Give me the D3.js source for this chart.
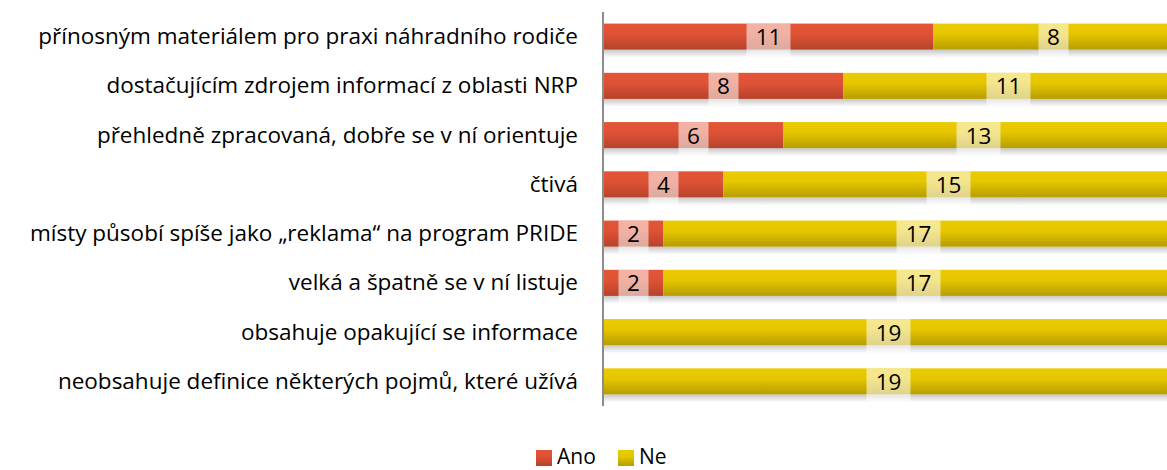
<!DOCTYPE html>
<html>
<head>
<meta charset="utf-8">
<script src="https://cdn.jsdelivr.net/npm/d3@7"></script>
<style>
  body { margin: 0; background: #fff; }
  svg { display: block; font-family: "Open Sans", "Noto Sans", sans-serif; }
</style>
</head>
<body>
<svg id="chart" width="1167" height="470"></svg>
<script>
var categories = [
  "přínosným materiálem pro praxi náhradního rodiče",
  "dostačujícím zdrojem informací z oblasti NRP",
  "přehledně zpracovaná, dobře se v ní orientuje",
  "čtivá",
  "místy působí spíše jako „reklama“ na program PRIDE",
  "velká a špatně se v ní listuje",
  "obsahuje opakující se informace",
  "neobsahuje definice některých pojmů, které užívá"
];
var ano = [11, 8, 6, 4, 2, 2, 0, 0];
var ne = [8, 11, 13, 15, 17, 17, 19, 19];
var seriesNames = ["Ano", "Ne"];

var svg = d3.select("#chart");
var defs = svg.append("defs");

// vertical gradients for the two series
var palettes = {
  Ano: ["#e35536", "#df5236", "#b4432a"],
  Ne: ["#ebcb00", "#e5c600", "#b79d00"]
};
seriesNames.forEach(function(name) {
  var g = defs.append("linearGradient")
      .attr("id", "grad-" + name)
      .attr("x1", 0).attr("y1", 0).attr("x2", 0).attr("y2", 1);
  g.append("stop").attr("offset", "0%").attr("stop-color", palettes[name][0]);
  g.append("stop").attr("offset", "40%").attr("stop-color", palettes[name][1]);
  g.append("stop").attr("offset", "100%").attr("stop-color", palettes[name][2]);
});
var sh = defs.append("linearGradient")
    .attr("id", "shadow")
    .attr("x1", 0).attr("y1", 0).attr("x2", 0).attr("y2", 1);
sh.append("stop").attr("offset", "0%").attr("stop-color", "#000").attr("stop-opacity", 0.22);
sh.append("stop").attr("offset", "100%").attr("stop-color", "#000").attr("stop-opacity", 0);

var x = d3.scaleLinear().domain([0, 19]).range([603.5, 1173.5]);
var y = d3.scaleBand().domain(categories).range([12, 406]).paddingInner(0.47).paddingOuter(0.235);

var rows = categories.map(function(c, i) {
  return { cat: c, segs: [
    { name: "Ano", x0: 0, x1: ano[i], v: ano[i] },
    { name: "Ne", x0: ano[i], x1: ano[i] + ne[i], v: ne[i] }
  ]};
});

var row = svg.append("g").selectAll("g")
  .data(rows)
  .enter().append("g");

// shadow under each bar
row.append("rect")
    .attr("x", x(0))
    .attr("y", function(d) { return y(d.cat) + y.bandwidth(); })
    .attr("width", function(d) { return x(d.segs[1].x1) - x(0); })
    .attr("height", 8)
    .attr("fill", "url(#shadow)");

row.selectAll("rect.seg")
  .data(function(d) { return d.segs.map(function(s) { s.cat = d.cat; return s; }); })
  .enter().append("rect")
    .attr("class", "seg")
    .attr("x", function(d) { return x(d.x0); })
    .attr("y", function(d) { return y(d.cat); })
    .attr("width", function(d) { return x(d.x1) - x(d.x0); })
    .attr("height", y.bandwidth())
    .attr("fill", function(d) { return "url(#grad-" + d.name + ")"; });

// data labels with translucent boxes
var lab = row.selectAll("g.lab")
  .data(function(d) { return d.segs.filter(function(s) { return s.v > 0; }); })
  .enter().append("g")
    .attr("class", "lab");

function boxW(d) { return String(d.v).length > 1 ? 44 : 30; }

lab.append("rect")
    .attr("x", function(d) { return (x(d.x0) + x(d.x1)) / 2 - boxW(d) / 2; })
    .attr("y", function(d) { return y(d.cat); })
    .attr("width", boxW)
    .attr("height", 33)
    .attr("fill", "#fff")
    .attr("fill-opacity", 0.55);

lab.append("text")
    .attr("x", function(d) { return (x(d.x0) + x(d.x1)) / 2; })
    .attr("y", function(d) { return y(d.cat) + y.bandwidth() / 2 + 8.5; })
    .attr("text-anchor", "middle")
    .attr("font-size", "22.5px")
    .attr("fill", "#000")
    .text(function(d) { return d.v; });

// category axis
svg.append("line")
    .attr("x1", 603).attr("x2", 603)
    .attr("y1", 12).attr("y2", 406)
    .attr("stroke", "#8c8c8c")
    .attr("stroke-width", 2);

svg.append("g").selectAll("text")
  .data(categories)
  .enter().append("text")
    .attr("x", 578)
    .attr("y", function(d) { return y(d) + y.bandwidth() / 2 + 7.5; })
    .attr("text-anchor", "end")
    .attr("font-size", "22.5px")
    .attr("fill", "#000")
    .text(function(d) { return d; });

// legend
var legendX = [536, 618];
var leg = svg.append("g").selectAll("g")
  .data(seriesNames)
  .enter().append("g")
    .attr("transform", function(d, i) { return "translate(" + legendX[i] + ",450)"; });
leg.append("rect")
    .attr("width", 16).attr("height", 16)
    .attr("fill", function(d) { return "url(#grad-" + d + ")"; });
leg.append("text")
    .attr("x", 21).attr("y", 14)
    .attr("font-size", "21px")
    .attr("fill", "#000")
    .text(function(d) { return d; });
</script>
</body>
</html>
